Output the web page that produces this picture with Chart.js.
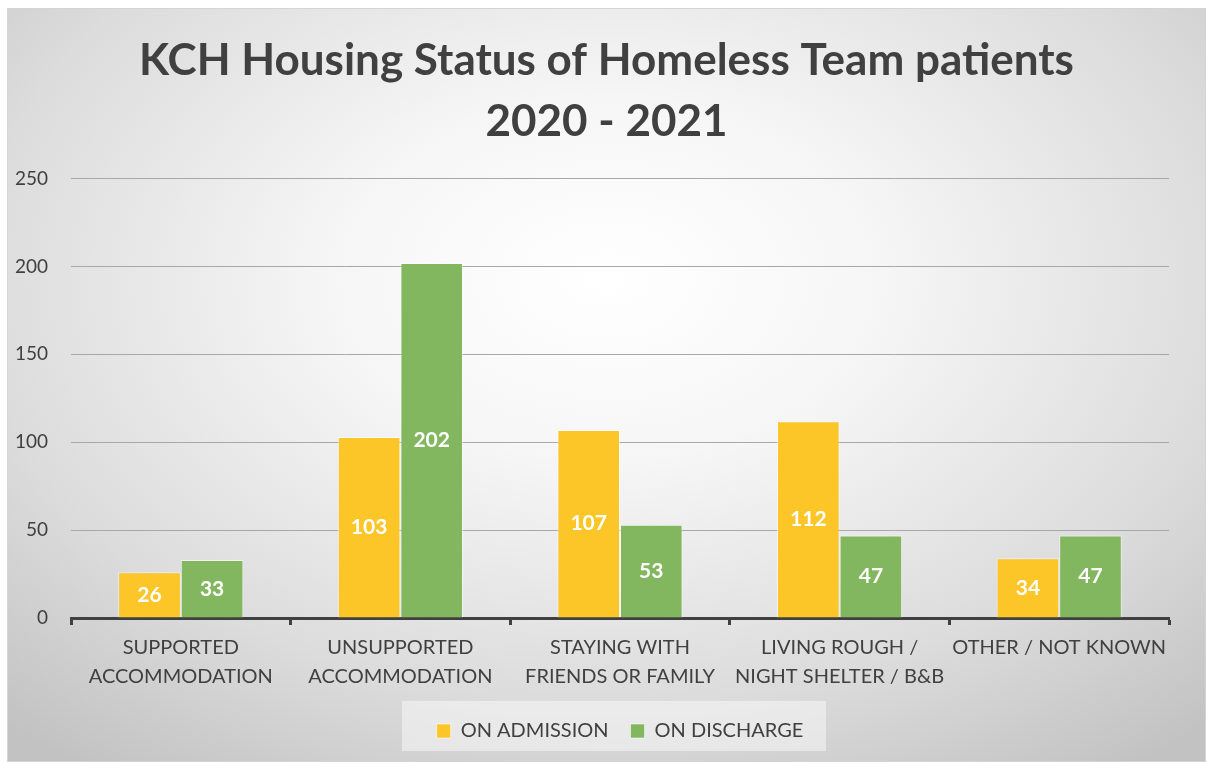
<!DOCTYPE html>
<html>
<head>
<meta charset="utf-8">
<script src="https://cdn.jsdelivr.net/npm/chart.js@4"></script>
<style>
  body { margin: 0; background: #fff; }
  #frame {
    position: absolute; left: 7px; top: 8px; width: 1197px; height: 752px;
    border: 1px solid #d4d4d4;
    background: radial-gradient(ellipse 75% 80% at 50% 36%, #ffffff 0%, #f6f6f6 30%, #dcdcdc 70%, #c2c2c2 100%);
  }
  #myChart { display: block; }
</style>
</head>
<body>
<div id="frame"><canvas id="myChart" width="1197" height="752"></canvas></div>
<script>
const categories = [
    ['SUPPORTED', 'ACCOMMODATION'],
    ['UNSUPPORTED', 'ACCOMMODATION'],
    ['STAYING WITH', 'FRIENDS OR FAMILY'],
    ['LIVING ROUGH /', 'NIGHT SHELTER / B&B'],
    'OTHER / NOT KNOWN'
];
const onAdmission = [26, 103, 107, 112, 34];
const onDischarge = [33, 202, 53, 47, 47];
const yTicks = [0, 50, 100, 150, 200, 250];

const FONT = "Lato, 'Open Sans', sans-serif";
const TEXT = '#404040';

// white value labels in the middle of each bar
const barLabels = {
    id: 'barLabels',
    afterDatasetsDraw(chart) {
        const ctx = chart.ctx;
        ctx.save();
        ctx.fillStyle = '#ffffff';
        ctx.font = 'bold 21px ' + FONT;
        ctx.textAlign = 'center';
        ctx.textBaseline = 'middle';
        chart.data.datasets.forEach((ds, i) => {
            chart.getDatasetMeta(i).data.forEach((bar, j) => {
                const p = bar.getProps(['x', 'y', 'base'], true);
                ctx.fillText(ds.data[j], p.x, (p.y + p.base) / 2);
            });
        });
        ctx.restore();
    }
};

// faint light box behind the legend
const legendBox = {
    id: 'legendBox',
    beforeDraw(chart) {
        const l = chart.legend;
        if (!l) return;
        const ctx = chart.ctx;
        ctx.save();
        ctx.fillStyle = 'rgba(255,255,255,0.45)';
        const w = 424;
        const cx = (l.left + l.right) / 2 - 6;
        ctx.fillRect(cx - w / 2, l.top + 2, w, 50);
        ctx.restore();
    }
};

const ctx = document.getElementById('myChart').getContext('2d');
new Chart(ctx, {
    type: 'bar',
    data: {
        labels: categories,
        datasets: [{
            label: 'ON ADMISSION',
            data: onAdmission,
            backgroundColor: '#fcc628',
            borderColor: 'rgba(255,255,255,0.55)',
            borderWidth: 1,
            categoryPercentage: 0.57,
            barPercentage: 1.0
        }, {
            label: 'ON DISCHARGE',
            data: onDischarge,
            backgroundColor: '#82b760',
            borderColor: 'rgba(255,255,255,0.55)',
            borderWidth: 1,
            categoryPercentage: 0.57,
            barPercentage: 1.0
        }]
    },
    options: {
        responsive: false,
        animation: false,
        layout: { padding: { left: 0, right: 0, top: 0, bottom: 10 } },
        plugins: {
            title: {
                display: true,
                text: ['KCH Housing Status of Homeless Team patients', '2020 - 2021'],
                color: TEXT,
                font: { family: FONT, size: 44, weight: 'bold', lineHeight: 1.37 },
                padding: { top: 22, bottom: 27 }
            },
            legend: {
                position: 'bottom',
                fullSize: false,
                labels: {
                    color: TEXT,
                    font: { family: FONT, size: 20 },
                    boxWidth: 14,
                    boxHeight: 14,
                    padding: 22
                }
            },
            tooltip: { enabled: false }
        },
        scales: {
            x: {
                ticks: {
                    color: TEXT,
                    font: { family: FONT, size: 20, lineHeight: 1.45 },
                    autoSkip: false,
                    maxRotation: 0,
                    padding: 8
                },
                grid: {
                    display: true,
                    offset: true,
                    drawOnChartArea: false,
                    drawTicks: true,
                    tickLength: 7,
                    tickWidth: 3,
                    tickColor: '#404040'
                },
                border: { display: true, color: '#404040', width: 3 }
            },
            y: {
                min: 0,
                max: 250,
                afterBuildTicks: s => { s.ticks = yTicks.map(v => ({ value: v })); },
                afterFit: s => { s.width = 63; },
                ticks: {
                    color: TEXT,
                    font: { family: FONT, size: 19 },
                    padding: 23
                },
                grid: { color: '#a8a8a8', lineWidth: 1, drawTicks: false },
                border: { display: false }
            },
            // empty right-hand space so the title stays centred on the frame
            yRight: {
                position: 'right',
                min: 0,
                max: 250,
                afterFit: s => { s.width = 36; },
                ticks: { display: false },
                grid: { display: false },
                border: { display: false }
            }
        }
    },
    plugins: [legendBox, barLabels]
});
</script>
</body>
</html>
